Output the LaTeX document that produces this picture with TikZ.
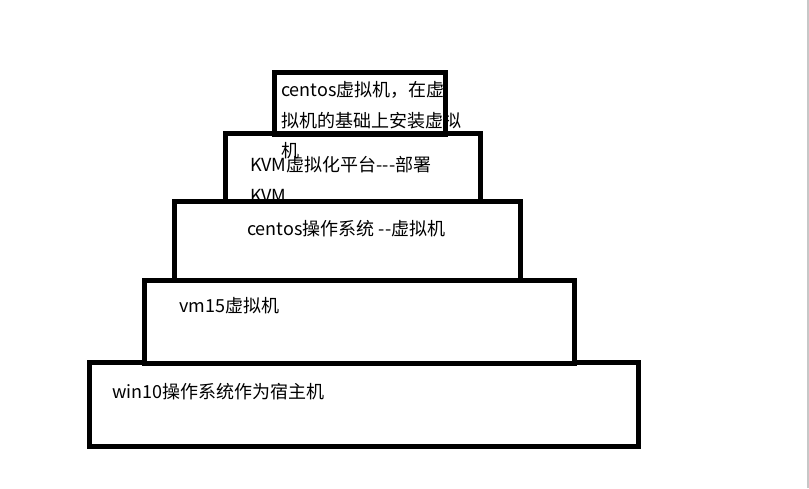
\documentclass[tikz,border=0pt]{standalone}
\usepackage{fontspec}
\setmainfont{Noto Sans CJK SC}
\usepackage{tikz}
\usetikzlibrary{positioning}

\begin{document}
\begin{tikzpicture}[
  x=1pt, y=-1pt,
  layer/.style={
    draw, line width=5pt, inner sep=0pt, fill=white},
  txt/.style={
    anchor=north west, inner sep=0pt, align=left,
    font=\fontsize{18}{30.5}\selectfont}
]
\useasboundingbox (0,0) rectangle (809,488);

%% Layers (bottom to top)
\node[layer, minimum width=549pt, minimum height=84.5pt] (win) at (364, 404.25) {};
\node[txt] (wintxt) at (112, 383.5) {win10操作系统作为宿主机};

\node[layer, minimum width=430.5pt, minimum height=83.5pt] (vm) at (359.25, 321.75) {};
\node[txt] (vmtxt) at (179, 297.5) {vm15虚拟机};

\node[layer, minimum width=255pt, minimum height=67.5pt] (kvm) at (353, 167.25) {};
\node[txt] (kvmtxt) at (250, 156.5) {KVM虚拟化平台-{}-{}-部署\\KVM};

%% Covers the second line of the KVM text
\node[layer, minimum width=346.5pt, minimum height=78.5pt] (os) at (347.25, 240.75) {};
\node[txt] (ostxt) at (247, 220.5) {centos操作系统 -{}-虚拟机};

\node[layer, fill=none, minimum width=171pt, minimum height=62pt] (cvm) at (360, 103.5) {};
\node[txt] (cvmtxt) at (281, 81.5) {centos虚拟机，在虚\\拟机的基础上安装虚拟\\机};

%% Window edge
\draw[line width=2pt, black!22] (808, 0) -- (808, 488);

\end{tikzpicture}
\end{document}
